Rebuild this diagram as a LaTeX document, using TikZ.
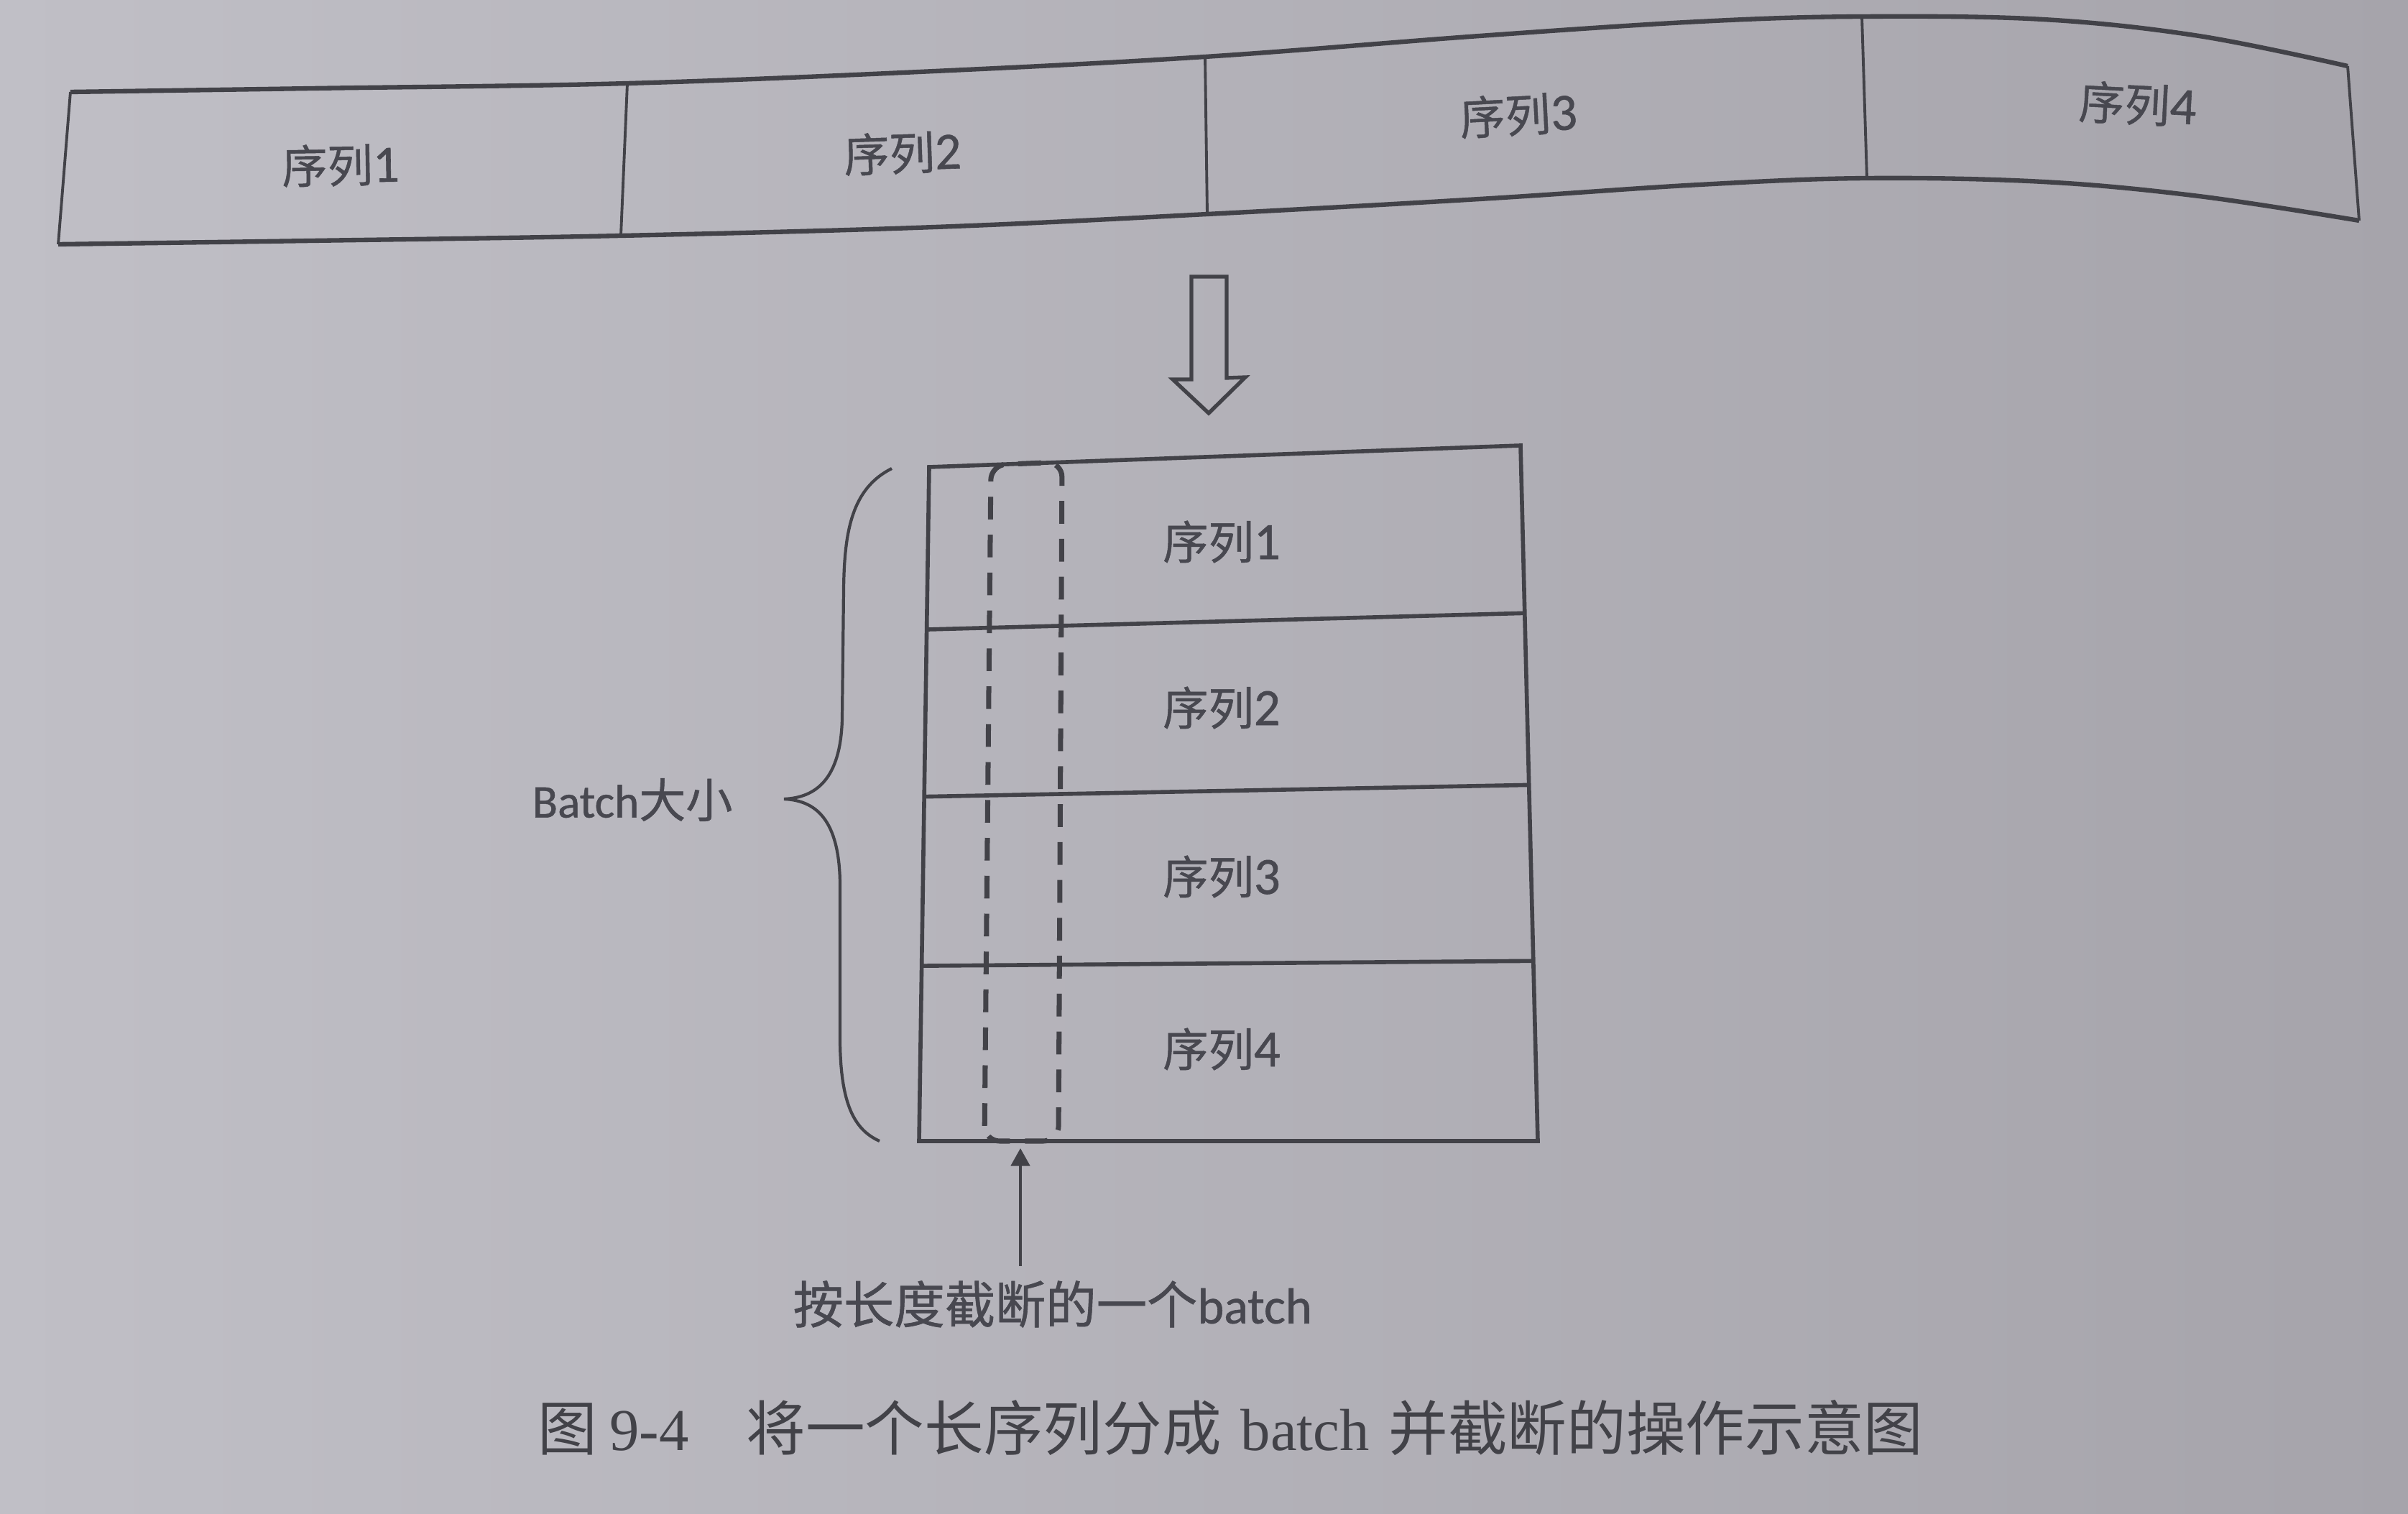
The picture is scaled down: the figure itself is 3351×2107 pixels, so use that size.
\documentclass[tikz,border=0pt]{standalone}
\usepackage{fontspec}
\newfontfamily\cjk[FakeBold=0.8]{Noto Sans CJK SC}
\newfontfamily\lat[FakeBold=0.8]{Carlito}
\newfontfamily\digitfont[FakeBold=0.8,Scale=1.15]{Carlito}
\newfontfamily\capcjk{Noto Sans CJK SC}
\newfontfamily\ser{Liberation Serif}
\usetikzlibrary{arrows.meta,calc}
\definecolor{paperL}{RGB}{192,191,198}
\definecolor{paperR}{RGB}{166,164,171}
\definecolor{ink}{RGB}{66,66,72}
\definecolor{inktext}{RGB}{72,72,80}
\newcommand\seqlab[1]{{\cjk 序列}{\digitfont #1}}
\tikzset{
  band/.style={draw=ink, line width=1.8pt, line join=round},
  divider/.style={draw=ink, line width=1.1pt},
  boxline/.style={draw=ink, line width=1.6pt, line join=miter},
  cutline/.style={draw=ink, line width=2pt, dash pattern=on 9pt off 6pt, rounded corners=6pt},
  bracestyle/.style={draw=ink, line width=1.2pt},
  hollowarrow/.style={draw=ink, line width=1.5pt, line join=miter},
  uparrow/.style={draw=ink, line width=1.1pt, -{Triangle[length=7pt,width=7.5pt]}},
  lab/.style={inner sep=0pt, text=inktext, font=\fontsize{18}{20}\selectfont},
  sidelab/.style={inner sep=0pt, text=inktext, font=\fontsize{18.5}{21}\selectfont, anchor=west},
  cutlabstyle/.style={inner sep=0pt, text=inktext, font=\fontsize{20}{22}\selectfont, anchor=west},
  capstyle/.style={inner sep=0pt, text=ink, font=\fontsize{23.5}{26}\selectfont, anchor=west},
}
\begin{document}
\begin{tikzpicture}[x=0.01cm,y=-0.01cm]
\useasboundingbox (0,0) rectangle (3351,2107);
\shade[left color=paperL, right color=paperR] (0,0) rectangle (3351,2107);

% ---------- long band ----------
\coordinate (T0) at (98,128);
\coordinate (T1) at (873,116);
\coordinate (T2) at (1677,79);
\coordinate (T3) at (2591,23);
\coordinate (T4) at (3267,92);
\coordinate (B0) at (81,340);
\coordinate (B1) at (864,328);
\coordinate (B2) at (1680,298);
\coordinate (B3) at (2598,248);
\coordinate (B4) at (3283,307);
\draw[band] plot[smooth, tension=0.6] coordinates {(98,128) (434,123) (873,116) (1301,99) (1677,79) (2059,50) (2365,30) (2591,23) (2843,27) (3060,50) (3267,92)};
\draw[band] plot[smooth, tension=0.6] coordinates {(81,340) (434,335) (864,328) (1301,316) (1680,298) (2059,277) (2365,257) (2598,248) (2843,253) (3060,273) (3283,307)};
\draw[divider] (T0) -- (B0);
\draw[divider] (T1) -- (B1);
\draw[divider] (T2) -- (B2);
\draw[divider] (T3) -- (B3);
\draw[divider] (T4) -- (B4);
\node[lab, rotate=1] (s1) at (474,230) {\seqlab{1}};
\node[lab, rotate=2] (s2) at (1256,213) {\seqlab{2}};
\node[lab, rotate=3] (s3) at (2113,160) {\seqlab{3}};
\node[lab, rotate=-3] (s4) at (2975,145) {\seqlab{4}};

% ---------- hollow down arrow ----------
\draw[hollowarrow] (1658,385) -- (1707,385) -- (1707,526) -- (1733,525) -- (1682,575) -- (1632,528) -- (1658,528) -- cycle;

% ---------- batch box ----------
\coordinate (BTL) at (1293,650);
\coordinate (BTR) at (2116,620);
\coordinate (BBR) at (2140,1588);
\coordinate (BBL) at (1279,1588);
\draw[cutline] (1370,1588) -- (1379,647) -- (1478,643) -- (1473,1588) -- cycle;
\draw[boxline] (BTL) -- (BTR) -- (BBR) -- (BBL) -- cycle;
\draw[boxline] ($(BTL)!0.241!(BBL)$) -- ($(BTR)!0.241!(BBR)$);
\draw[boxline] ($(BTL)!0.489!(BBL)$) -- ($(BTR)!0.488!(BBR)$);
\draw[boxline] ($(BTL)!0.740!(BBL)$) -- ($(BTR)!0.741!(BBR)$);
\node[lab] (r1) at (1700,754) {\seqlab{1}};
\node[lab] (r2) at (1700,985) {\seqlab{2}};
\node[lab] (r3) at (1700,1220) {\seqlab{3}};
\node[lab] (r4) at (1700,1460) {\seqlab{4}};

% ---------- brace ----------
\draw[bracestyle] (1241,652) .. controls (1185,680) and (1175,740) .. (1174,820)
  -- (1172,1000) .. controls (1170,1085) and (1135,1110) .. (1091,1112)
  .. controls (1135,1114) and (1168,1140) .. (1169,1230)
  -- (1169,1450) .. controls (1170,1535) and (1188,1572) .. (1224,1588);
\node[sidelab] (batchlab) at (740,1113) {{\lat Batch}{\cjk 大小}};

% ---------- cut label and arrow ----------
\node[cutlabstyle] (cutlab) at (1103,1815) {{\cjk 按长度截断的一个}{\lat batch}};
\coordinate (cuttop) at (1420,1598);
\draw[uparrow] ($(cutlab.north -| cuttop)+(0,-20)$) -- (cuttop);

% ---------- caption ----------
\node[capstyle] (caption) at (748,1987) {{\capcjk 图}\hspace{0.17cm}{\ser 9-4}\hspace{0.8cm}{\capcjk 将一个长序列分成}\hspace{0.27cm}{\ser batch}\hspace{0.27cm}{\capcjk 并截断的操作示意图}};
\end{tikzpicture}
\end{document}
